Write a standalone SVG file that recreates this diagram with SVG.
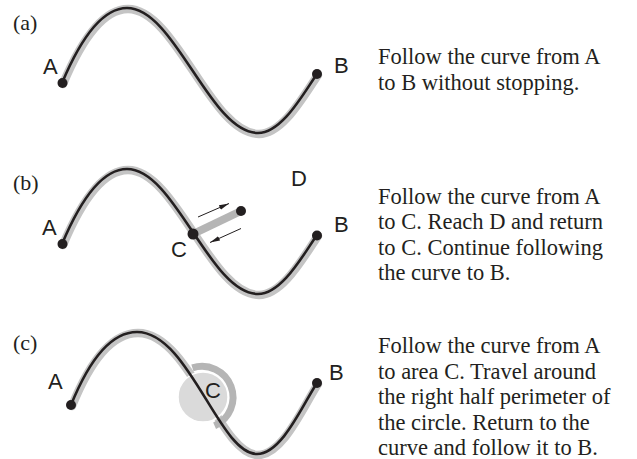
<svg xmlns="http://www.w3.org/2000/svg" width="637" height="459" viewBox="0 0 637 459">
<style>
.band{fill:none;stroke:#c4c4c4;stroke-width:8.5;stroke-linecap:round}
.line{fill:none;stroke:#231f20;stroke-width:2.6;stroke-linecap:round}
.dot{fill:#231f20}
.lbl{font-family:"Liberation Sans",Arial,sans-serif;font-size:22px;fill:#231f20}
.pl{font-family:"Liberation Serif","Times New Roman",serif;font-size:22px;fill:#231f20}
.txt{font-family:"Liberation Serif","Times New Roman",serif;font-size:22.5px;fill:#231f20}
.arr{fill:none;stroke:#231f20;stroke-width:1}
</style>
<defs>
<path id="curveAB" d="M62,83 C78,45 100,8 127,8 C175,8 210,133 258,133 C282,133 303,94 317,74"/>
<path id="curveC" d="M71,405 C86,368 108,332 137,332 C189,332 219,454 257,454 C282,454 303,404 317,383"/>
<marker id="ah" viewBox="0 0 10 6" refX="10" refY="3" markerWidth="10" markerHeight="6" markerUnits="userSpaceOnUse" orient="auto">
<path d="M0,0.6 L10,3 L0,5.4 Z" fill="#231f20"/>
</marker>
</defs>

<g id="panel-a">
<text class="pl" x="13" y="30">(a)</text>
<use href="#curveAB" class="band" transform="translate(1,1)"/>
<use href="#curveAB" class="line"/>
<g id="a-A"><circle class="dot" cx="62.5" cy="83" r="5"/><text class="lbl" x="43" y="74">A</text></g>
<g id="a-B"><circle class="dot" cx="317" cy="74" r="5"/><text class="lbl" x="334" y="73">B</text></g>
<text class="txt" x="378" y="64">Follow the curve from A</text>
<text class="txt" x="378" y="90">to B without stopping.</text>
</g>

<g id="panel-b">
<text class="pl" x="13" y="190">(b)</text>
<g transform="translate(0,161)">
<use href="#curveAB" class="band" transform="translate(1,1)"/>
<use href="#curveAB" class="line"/>
</g>
<line x1="193" y1="234" x2="241" y2="211" stroke="#b5b5b5" stroke-width="8"/>
<g id="b-A"><circle class="dot" cx="62.5" cy="244" r="5"/><text class="lbl" x="42" y="235">A</text></g>
<g id="b-B"><circle class="dot" cx="317" cy="235.5" r="5"/><text class="lbl" x="334" y="232">B</text></g>
<g id="b-C"><circle class="dot" cx="193" cy="234" r="5.5"/><text class="lbl" x="171" y="257">C</text></g>
<g id="b-D"><circle class="dot" cx="241" cy="211" r="5"/><text class="lbl" x="291" y="186">D</text></g>
<text class="txt" x="378" y="203.5">Follow the curve from A</text>
<text class="txt" x="378" y="229">to C. Reach D and return</text>
<text class="txt" x="378" y="254.5">to C. Continue following</text>
<text class="txt" x="378" y="280">the curve to B.</text>
</g>

<g id="connectors">
<line class="arr" x1="198" y1="217" x2="229" y2="203.5" marker-end="url(#ah)"/>
<line class="arr" x1="241" y1="228.5" x2="210" y2="242.5" marker-end="url(#ah)"/>
</g>

<g id="panel-c">
<text class="pl" x="13" y="350">(c)</text>
<use href="#curveC" class="band" transform="translate(1,1)"/>
<path id="ring" d="M192.4,367.9 A31,31 0 0 1 214.6,425.7" fill="none" stroke="#b5b5b5" stroke-width="7"/>
<circle id="disk" cx="203" cy="397" r="25" fill="#dadada" stroke="#ffffff" stroke-width="1.5"/>
<use href="#curveC" class="line"/>
<g id="c-A"><circle class="dot" cx="71" cy="405" r="5"/><text class="lbl" x="48" y="389">A</text></g>
<g id="c-B"><circle class="dot" cx="317" cy="383" r="5"/><text class="lbl" x="329" y="380">B</text></g>
<g id="c-C"><text class="lbl" x="205" y="398">C</text></g>
<text class="txt" x="378" y="353">Follow the curve from A</text>
<text class="txt" x="378" y="378.5">to area C. Travel around</text>
<text class="txt" x="378" y="404">the right half perimeter of</text>
<text class="txt" x="378" y="429.5">the circle. Return to the</text>
<text class="txt" x="378" y="455">curve and follow it to B.</text>
</g>
</svg>
